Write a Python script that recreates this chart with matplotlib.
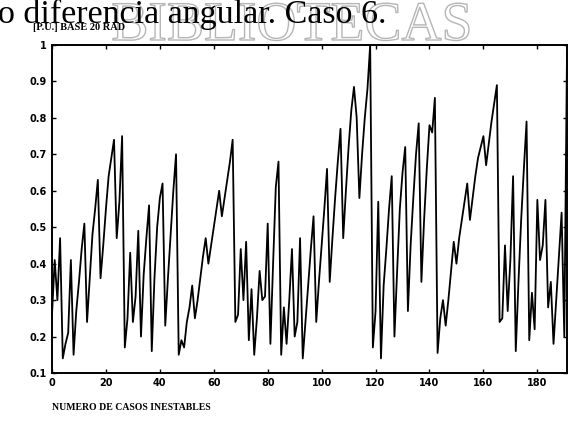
import matplotlib
matplotlib.use("Agg")
import matplotlib.pyplot as plt
import matplotlib.patheffects as pe
import numpy as np

# valores (p.u.)
casos = np.arange(0, 192)
valores = [
    0.26, 0.41, 0.30, 0.47, 0.14, 0.18, 0.21, 0.41, 0.15, 0.27,
    0.35, 0.44, 0.51, 0.24, 0.36, 0.48, 0.55, 0.63, 0.36, 0.45,
    0.55, 0.64, 0.69, 0.74, 0.47, 0.57, 0.75, 0.17, 0.25, 0.43,
    0.24, 0.31, 0.49, 0.20, 0.37, 0.47, 0.56, 0.16, 0.36, 0.50,
    0.58, 0.62, 0.23, 0.36, 0.48, 0.60, 0.70, 0.15, 0.19, 0.17,
    0.24, 0.28, 0.34, 0.25, 0.30, 0.36, 0.42, 0.47, 0.40, 0.45,
    0.50, 0.55, 0.60, 0.53, 0.58, 0.63, 0.68, 0.74, 0.24, 0.26,
    0.44, 0.30, 0.46, 0.19, 0.33, 0.15, 0.25, 0.38, 0.30, 0.31,
    0.51, 0.18, 0.40, 0.61, 0.68, 0.15, 0.28, 0.18, 0.30, 0.44,
    0.20, 0.24, 0.47, 0.14, 0.24, 0.34, 0.44, 0.53, 0.24, 0.35,
    0.45, 0.55, 0.66, 0.35, 0.47, 0.58, 0.68, 0.77, 0.47, 0.60,
    0.72, 0.82, 0.885, 0.80, 0.58, 0.70, 0.80, 0.88, 1.00, 0.17,
    0.27, 0.57, 0.14, 0.34, 0.44, 0.55, 0.64, 0.20, 0.38, 0.55,
    0.65, 0.72, 0.27, 0.45, 0.58, 0.70, 0.785, 0.35, 0.52, 0.66,
    0.78, 0.76, 0.855, 0.155, 0.25, 0.30, 0.23, 0.30, 0.38, 0.46,
    0.40, 0.47, 0.52, 0.57, 0.62, 0.52, 0.58, 0.64, 0.69, 0.72,
    0.75, 0.67, 0.73, 0.79, 0.84, 0.89, 0.24, 0.25, 0.45, 0.27,
    0.41, 0.64, 0.16, 0.35, 0.52, 0.66, 0.79, 0.19, 0.32, 0.22,
    0.575, 0.41, 0.45, 0.575, 0.28, 0.35, 0.18, 0.30, 0.42, 0.54,
    0.20, 0.98,
]
xticks = [0, 20, 40, 60, 80, 100, 120, 140, 160, 180]
yticks = [0.1, 0.2, 0.3, 0.4, 0.5, 0.6, 0.7, 0.8, 0.9, 1.0]
yticklabels = ["0.1", "0.2", "0.3", "0.4", "0.5", "0.6", "0.7", "0.8", "0.9", "1"]

fig = plt.figure(figsize=(5.86, 4.32), dpi=100)

# texto del documento y marca de agua arriba
fig.text(0.19, 1 - 40/432, "BIBLIOTECAS", family="Liberation Serif",
         fontsize=40, color="none", va="baseline",
         path_effects=[pe.withStroke(linewidth=1.0, foreground="#b5b5b5")])
fig.text(-0.004, 1 - 23/432, "o diferencia angular. Caso 6.",
         family="Liberation Serif", fontsize=24.5, color="black", va="baseline")

ax = fig.add_axes([52/586, 1 - 373/432, (567-52)/586, (373-45)/432])
ax.plot(casos, valores, color="black", lw=1.3)
ax.set_xlim(0, 191)
ax.set_ylim(0.1, 1.0)
ax.set_xticks(xticks)
ax.set_yticks(yticks)
ax.set_yticklabels(yticklabels)
ax.tick_params(direction="in", top=True, right=True, length=3, width=1,
               labelsize=7)
for lab in ax.get_xticklabels() + ax.get_yticklabels():
    lab.set_fontweight("bold")
for s in ax.spines.values():
    s.set_linewidth(1.4)

fig.text(33/586, 1 - 30/432, "[P.U.] BASE 20 RAD", family="Liberation Serif",
         fontsize=7.5, weight="bold", va="baseline")
fig.text(52/586, 1 - 410/432, "NUMERO DE CASOS INESTABLES",
         family="Liberation Serif", fontsize=7, weight="bold", va="baseline")

plt.savefig("out.png", dpi=100)
